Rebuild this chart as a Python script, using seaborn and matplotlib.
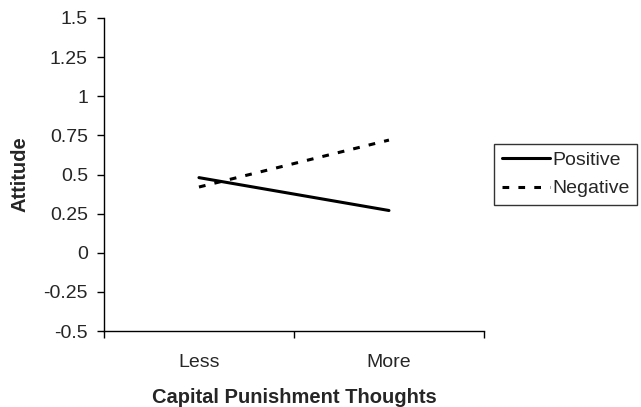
import pandas as pd
import matplotlib
matplotlib.use('Agg')
import matplotlib.pyplot as plt
import seaborn as sns

#---------------------------------------------------------
categories=['Less', 'More']
positive=[0.48, 0.27]
negative=[0.42, 0.72]
series=['Positive', 'Negative']
yticks=[-0.5, -0.25, 0, 0.25, 0.5, 0.75, 1, 1.25, 1.5]
ytick_lbls=['-0.5', '-0.25', '0', '0.25', '0.5', '0.75', '1', '1.25', '1.5']

#--------------------------------------------------------
rows=[]
for name, vals in zip(series, [positive, negative]):
	for i, (cat, v) in enumerate(zip(categories, vals)):
		rows.append({'pos': i+0.5, 'cat': cat, 'val': v, 'side': name})
df=pd.DataFrame(rows)

#--------------------------------------------------------
sns.set_style('white')
plt.rcParams['font.family']=['Liberation Sans', 'DejaVu Sans']
fs=14

fig=plt.figure(figsize=(6.41, 4.07), dpi=100)
ax=fig.add_axes([0.1622, 0.1867, 0.5928, 0.7691])
sns.lineplot(data=df, x='pos', y='val', hue='side', style='side',
	palette=['black', 'black'], dashes={'Positive': '', 'Negative': (2.2, 3.0)},
	linewidth=2.2, ax=ax, legend=True)

#adjust
ax.set_xlim(0, 2)
ax.set_ylim(-0.5, 1.5)
ax.set_yticks(yticks)
ax.set_yticklabels(ytick_lbls, fontsize=fs)
ax.set_xticks([0, 1, 2])
ax.set_xticklabels([])
ax.set_xticks([0.5, 1.5], minor=True)
ax.set_xticklabels(categories, minor=True, fontsize=fs)
ax.tick_params(axis='x', which='major', direction='out', length=5, width=1, color='black', bottom=True)
ax.tick_params(axis='x', which='minor', length=0, pad=16.5)
ax.tick_params(axis='y', direction='out', length=5, width=1, color='black', left=True, pad=6.5)
for s in ['top', 'right']:
	ax.spines[s].set_visible(False)
for s in ['left', 'bottom']:
	ax.spines[s].set_color('black')
	ax.spines[s].set_linewidth(1)
ax.set_xlabel('Capital Punishment Thoughts', fontsize=14.5, weight='bold', labelpad=12.5)
ax.set_ylabel('Attitude', fontsize=14.5, weight='bold', labelpad=10)

leg=ax.legend(loc='center left', bbox_to_anchor=(1.026, 0.5), fontsize=fs, frameon=True,
	fancybox=False, handlelength=2.5, handletextpad=0.1, borderpad=0.4, labelspacing=0.55,
	borderaxespad=0)
leg.get_frame().set_edgecolor('black')
leg.get_frame().set_linewidth(1)
for h in leg.get_lines():
	h.set_linewidth(2.2)

plt.savefig('out.png', dpi=100)
plt.close()
